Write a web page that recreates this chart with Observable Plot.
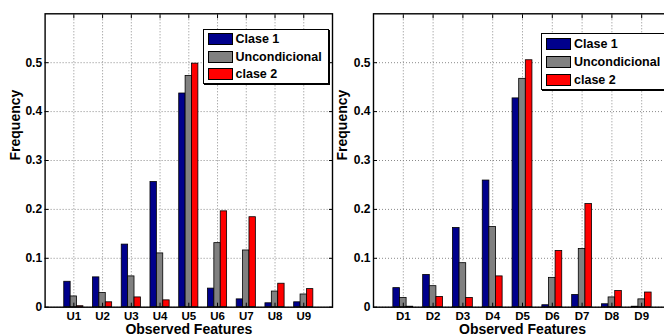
<!DOCTYPE html>
<html>
<head>
<meta charset="utf-8">
<script src="https://cdn.jsdelivr.net/npm/d3@7"></script>
<script src="https://cdn.jsdelivr.net/npm/@observablehq/plot@0.6"></script>
<style>
  html, body { margin: 0; padding: 0; background: #fff; }
  #wrap { position: relative; width: 664px; height: 336px; overflow: hidden; font-family: "Liberation Sans", Arial, sans-serif; }
  .panel { position: absolute; top: 0; }
  .panel svg { max-width: none !important; background: transparent; }
  .legend { position: absolute; border: 1px solid #000; box-shadow: 1px 1px 0 #000; background: #fff;
            font-weight: bold; font-size: 12.5px; color: #000; box-sizing: border-box; }
  .legend .row { display: flex; align-items: center; height: 17.5px; }
  .legend .sw { width: 24px; height: 12px; border: 1px solid #000; box-sizing: border-box; margin-right: 3px; }
</style>
</head>
<body>
<div id="wrap"></div>
<script>
// ---- data ----
const series = ["Clase 1", "Uncondicional", "clase 2"];
const colors = ["#00008c", "#808080", "#ff0000"];

const featuresU = ["U1", "U2", "U3", "U4", "U5", "U6", "U7", "U8", "U9"];
const clase1U = [0.052, 0.061, 0.128, 0.256, 0.437, 0.038, 0.016, 0.008, 0.010];
const uncondU = [0.022, 0.029, 0.063, 0.110, 0.473, 0.131, 0.116, 0.032, 0.026];
const clase2U = [0.002, 0.010, 0.020, 0.014, 0.498, 0.196, 0.184, 0.048, 0.037];

const featuresD = ["D1", "D2", "D3", "D4", "D5", "D6", "D7", "D8", "D9"];
const clase1D = [0.039, 0.066, 0.162, 0.259, 0.427, 0.004, 0.025, 0.006, 0.001];
const uncondD = [0.019, 0.043, 0.090, 0.164, 0.467, 0.060, 0.119, 0.020, 0.016];
const clase2D = [0.001, 0.021, 0.019, 0.063, 0.505, 0.115, 0.211, 0.033, 0.030];

const yTicks = [0, 0.1, 0.2, 0.3, 0.4, 0.5];
const yLabel = "Frequency";
const xLabel = "Observed Features";

// ---- chart ----
const groupWidth = 2 / 3;
const barWidth = groupWidth / series.length;

function rows(features, values) {
  return features.flatMap((f, i) => series.map((s, k) => ({
    feature: f, pos: i + 1, k, series: s, value: values[k][i]
  })));
}

function panel(features, values, o) {
  const data = rows(features, values);
  const pos = features.map((f, i) => i + 1);
  const grid = { stroke: "#8a8a8a", strokeOpacity: 1, strokeWidth: 1, strokeDasharray: "1,2" };
  return Plot.plot({
    width: o.width, height: 336,
    marginLeft: o.ml, marginRight: o.mr, marginTop: 13.3, marginBottom: 29.3,
    x: { type: "linear", domain: [0, features.length + 1] },
    y: { domain: [0, 0.6] },
    color: { domain: series, range: colors },
    style: { fontFamily: "'Liberation Sans', Arial, sans-serif", fontWeight: "bold", fontSize: "12px",
             color: "#000", background: "transparent", overflow: "visible" },
    marks: [
      Plot.gridY(yTicks, grid),
      Plot.gridX(pos, grid),
      Plot.rectY(data, {
        x1: d => d.pos - groupWidth / 2 + d.k * barWidth,
        x2: d => d.pos - groupWidth / 2 + (d.k + 1) * barWidth,
        y: "value", fill: "series", stroke: "#000", strokeWidth: 0.8
      }),
      Plot.axisY(yTicks, { anchor: "left", tickSize: 0, tickPadding: 3, label: null,
                           tickFormat: d => d === 0 ? "0" : d3.format(".1f")(d), fontSize: 12, fontWeight: "bold" }),
      Plot.axisY(yTicks, { anchor: "left", tickSize: 4, dx: 4, fill: "none", label: null }),
      Plot.axisY(yTicks, { anchor: "right", tickSize: 4, dx: -4, fill: "none", label: null }),
      Plot.axisX(pos, { anchor: "bottom", tickSize: 0, tickPadding: 4.5, label: null,
                        tickFormat: p => features[p - 1], fontSize: 11.5, fontWeight: "bold" }),
      Plot.axisX(pos, { anchor: "bottom", tickSize: 4, dy: -4, fill: "none", label: null }),
      Plot.axisX(pos, { anchor: "top", tickSize: 4, dy: 4, fill: "none", label: null }),
      Plot.frame({ stroke: "#000", strokeWidth: 1.4 }),
      Plot.text([yLabel], { text: d => d, frameAnchor: "left", dx: o.ylabelDx, rotate: -90,
                            fontSize: 14, fontWeight: "bold" }),
      Plot.text([xLabel], { text: d => d, frameAnchor: "bottom", dy: 27,
                            fontSize: 14, fontWeight: "bold" })
    ]
  });
}

function legend(o) {
  const box = document.createElement("div");
  box.className = "legend";
  Object.assign(box.style, { left: o.left + "px", top: o.top + "px", width: o.w + "px",
                             paddingTop: o.pt + "px", paddingLeft: o.pl + "px" });
  series.forEach((s, k) => {
    const row = document.createElement("div");
    row.className = "row";
    row.style.height = o.rh + "px";
    const sw = document.createElement("div");
    sw.className = "sw";
    sw.style.background = colors[k];
    sw.style.width = o.sw + "px";
    const t = document.createElement("span");
    t.textContent = s;
    row.append(sw, t);
    box.append(row);
  });
  return box;
}

const wrap = document.getElementById("wrap");

const left = document.createElement("div");
left.className = "panel";
left.style.left = "0px";
left.append(panel(featuresU, [clase1U, uncondU, clase2U], { width: 340, ml: 44.6, mr: 8, ylabelDx: -30 }));
wrap.append(left);

const right = document.createElement("div");
right.className = "panel";
right.style.left = "332px";
right.append(panel(featuresD, [clase1D, uncondD, clase2D], { width: 349, ml: 41, mr: 10, ylabelDx: -30.5 }));
wrap.append(right);

wrap.append(legend({ left: 203, top: 29, w: 126, pt: 0.5, pl: 3.5, rh: 17.5, sw: 25 }));
wrap.append(legend({ left: 540.5, top: 33, w: 126, pt: 1.5, pl: 4.5, rh: 17.7, sw: 25 }));
</script>
</body>
</html>
